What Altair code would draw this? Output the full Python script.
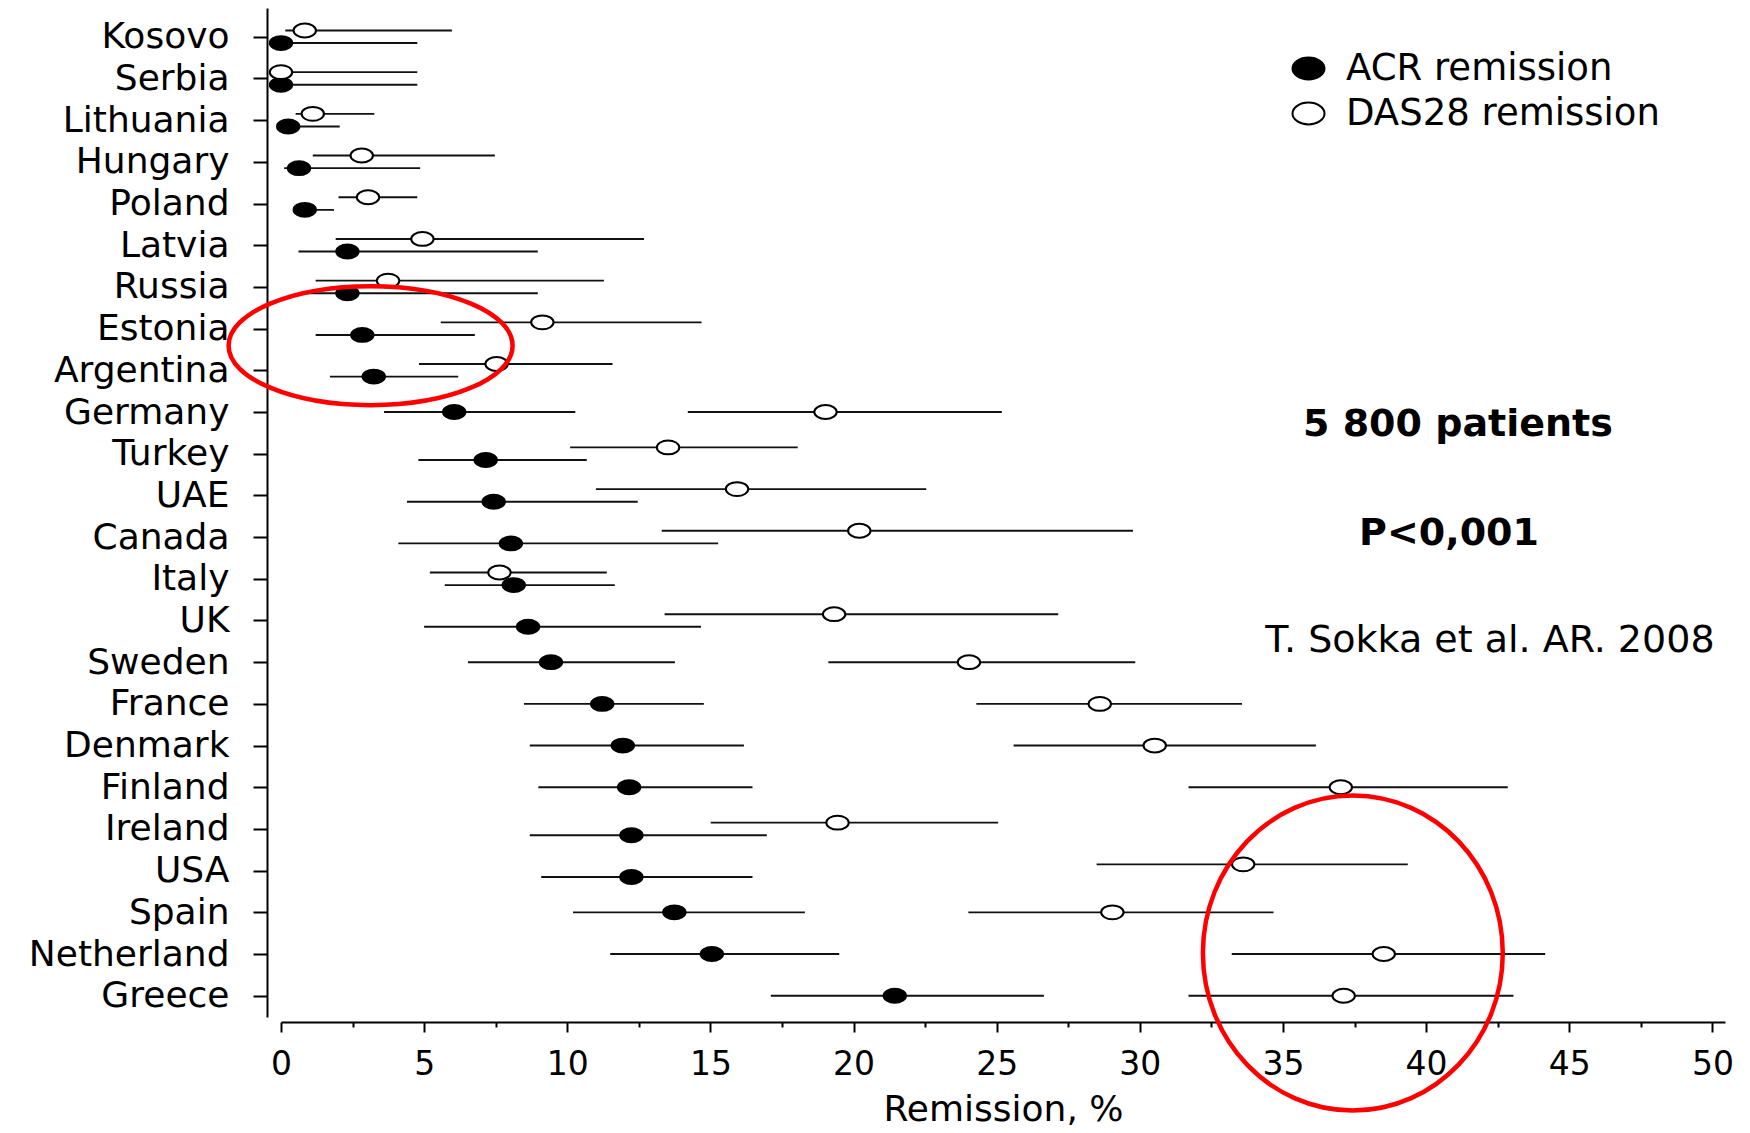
import altair as alt
import pandas as pd

countries = ["Kosovo", "Serbia", "Lithuania", "Hungary", "Poland", "Latvia", "Russia",
             "Estonia", "Argentina", "Germany", "Turkey", "UAE", "Canada", "Italy", "UK",
             "Sweden", "France", "Denmark", "Finland", "Ireland", "USA", "Spain",
             "Netherland", "Greece"]

das_val = [0.83, 0.0, 1.11, 2.82, 3.04, 4.94, 3.74, 9.13, 7.53, 19.02, 13.52, 15.93,
           20.2, 7.63, 19.32, 24.03, 28.6, 30.52, 37.02, 19.44, 33.61, 29.04, 38.52, 37.12]
das_lo = [0.15, 0.0, 0.51, 1.11, 2.01, 1.91, 1.21, 5.58, 4.82, 14.21, 10.1, 11.0,
          13.3, 5.2, 13.4, 19.12, 24.29, 25.59, 31.7, 15.01, 28.49, 24.01, 33.21, 31.7]
das_hi = [5.97, 4.76, 3.26, 7.47, 4.76, 12.68, 11.28, 14.69, 11.58, 25.18, 18.05, 22.54,
          29.76, 11.38, 27.15, 29.84, 33.57, 36.15, 42.85, 25.05, 39.36, 34.67, 44.16, 43.05]

acr_val = [0.0, 0.0, 0.25, 0.63, 0.83, 2.32, 2.32, 2.84, 3.24, 6.05, 7.15, 7.43,
           8.03, 8.13, 8.63, 9.43, 11.22, 11.94, 12.16, 12.24, 12.24, 13.74, 15.05, 21.44]
acr_lo = [0.0, 0.0, 0.0, 0.11, 0.5, 0.61, 0.61, 1.21, 1.71, 3.6, 4.8, 4.4,
          4.1, 5.72, 5.0, 6.53, 8.49, 8.69, 8.99, 8.69, 9.09, 10.2, 11.5, 17.11]
acr_hi = [4.76, 4.76, 2.05, 4.86, 1.85, 8.97, 8.97, 6.77, 6.19, 10.28, 10.68, 12.46,
          15.27, 11.66, 14.67, 13.76, 14.77, 16.17, 16.47, 16.97, 16.47, 18.3, 19.5, 26.65]

# rows where the two estimates are drawn slightly apart vertically in the original
staggered = ["Kosovo", "Serbia", "Lithuania", "Hungary", "Poland", "Latvia", "Russia",
             "Estonia", "Argentina", "Turkey", "UAE", "Canada", "Italy", "UK",
             "Ireland", "USA"]

series_names = ["ACR remission", "DAS28 remission"]
x_ticks = [0, 2.5, 5, 7.5, 10, 12.5, 15, 17.5, 20, 22.5, 25, 27.5, 30, 32.5, 35,
           37.5, 40, 42.5, 45, 47.5, 50]

note_text = ["5 800 patients", "P<0,001", "T. Sokka et al. AR. 2008"]
note_x = [41.11, 40.8, 42.23]
note_row = ["Germany", "Canada", "UK"]

ring_x = [3.13, 37.44]
ring_row = ["Estonia", "Netherland"]

rows = []
for i, c in enumerate(countries):
    s = c in staggered
    rows.append(dict(country=c, series=series_names[0], val=acr_val[i], lo=acr_lo[i],
                     hi=acr_hi[i], lane=1 if s else 0))
    rows.append(dict(country=c, series=series_names[1], val=das_val[i], lo=das_lo[i],
                     hi=das_hi[i], lane=-1 if s else 0))
df = pd.DataFrame(rows)

FONT = "DejaVu Sans"
ELL = "M-1,0A1,0.62,0,1,1,1,0A1,0.62,0,1,1,-1,0Z"
ELL_LEG = "M-1,0A1,0.68,0,1,1,1,0A1,0.68,0,1,1,-1,0Z"
RING1 = "M-1,0A1,0.419,0,1,1,1,0A1,0.419,0,1,1,-1,0Z"
RING2 = "M-0.952,0A0.952,1,0,1,1,0.952,0A0.952,1,0,1,1,-0.952,0Z"

x_scale = alt.Scale(domain=[0, 50.44], nice=False, zero=False)
y_scale = alt.Scale(type="point", domain=countries, padding=0.6, align=0.575)
yoff = alt.YOffset("lane:Q", scale=alt.Scale(domain=[-1, 1], range=[-6.3, 6.3]))

x_axis = alt.Axis(values=x_ticks, title="Remission, %", labelFlush=False,
                  tickSize={"condition": {"test": "datum.value % 5 === 0", "value": 10},
                            "value": 5},
                  labelExpr="datum.value % 5 === 0 ? datum.label : ''")
y_axis = alt.Axis(title=None)


def X(field):
    return alt.X(field, scale=x_scale, axis=x_axis)


def Y(field):
    return alt.Y(field, scale=y_scale, axis=y_axis)


rules = alt.Chart(df).mark_rule(color="#111111", strokeWidth=1.9).encode(
    x=X("lo:Q"),
    x2="hi:Q",
    y=Y("country:N"),
    yOffset=yoff,
)

points = alt.Chart(df).mark_point(shape=ELL, size=500, filled=True, stroke="black",
                                  strokeWidth=2, opacity=1).encode(
    x=X("val:Q"),
    y=Y("country:N"),
    yOffset=yoff,
    fill=alt.Fill("series:N", scale=alt.Scale(domain=series_names, range=["black", "white"]),
                  legend=alt.Legend(title=None, orient="none", legendX=1009, legendY=42,
                                    symbolType=ELL_LEG, symbolSize=1024,
                                    symbolStrokeColor="black", symbolStrokeWidth=2,
                                    labelFont=FONT, labelFontSize=37, labelColor="black",
                                    labelLimit=500, labelOffset=19, rowPadding=7,
                                    padding=0)),
)


def note(i, dy, weight):
    d = pd.DataFrame({"t": [note_text[i]], "val": [note_x[i]], "country": [note_row[i]]})
    return alt.Chart(d).mark_text(font=FONT, fontSize=38, fontWeight=weight, dy=dy,
                                  align="center", baseline="middle", color="black").encode(
        x=X("val:Q"),
        y=Y("country:N"),
        text="t:N",
    )


def ring(i, shape, size, dy):
    d = pd.DataFrame({"val": [ring_x[i]], "country": [ring_row[i]]})
    return alt.Chart(d).mark_point(shape=shape, size=size, filled=False, stroke="#ff0000",
                                   strokeWidth=4.5, opacity=1, yOffset=dy).encode(
        x=X("val:Q"),
        y=Y("country:N"),
    )


chart = alt.layer(
    rules, points,
    note(0, 13, "bold"), note(1, -3, "bold"), note(2, 21, "normal"),
    ring(0, RING1, 80656, 17), ring(1, RING2, 99225, -1),
).properties(
    width=1444, height=1009,
    autosize=alt.AutoSizeParams(type="none"),
    padding={"left": 281, "top": 8, "right": 25, "bottom": 116},
    background="white",
).configure_axis(
    domainColor="black", tickColor="black", labelColor="black", titleColor="black",
    labelFont=FONT, titleFont=FONT, grid=False,
).configure_axisY(
    offset=14, domainWidth=2, tickWidth=2, tickSize=14, labelFontSize=36, labelPadding=24,
    labelLimit=400,
).configure_axisX(
    offset=5, domainWidth=2, tickWidth=2, labelFontSize=33, labelPadding=16,
    titleFontSize=36, titleFontWeight="normal", titlePadding=11,
).configure_view(stroke=None)

chart.save("out.html", embed_options={"renderer": "svg", "actions": False})
